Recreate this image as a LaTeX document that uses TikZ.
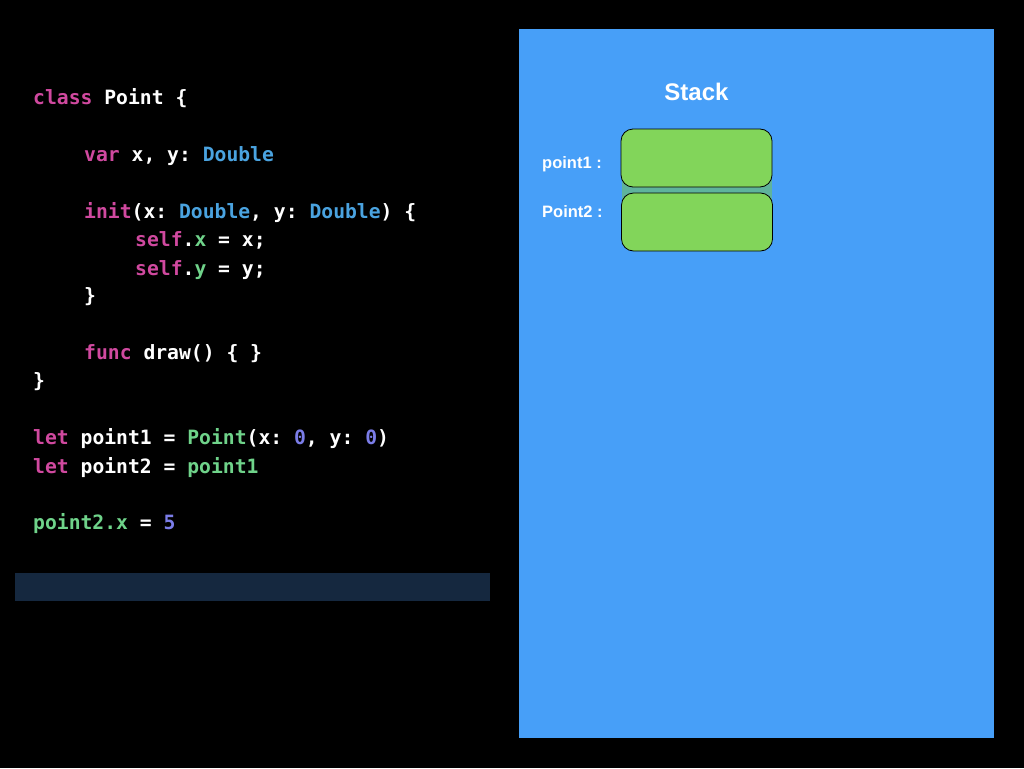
\documentclass[tikz,border=0pt]{standalone}
\usepackage{fontspec}
\setmainfont{Liberation Sans}
\setmonofont{DejaVu Sans Mono}
\definecolor{panelblue}{HTML}{479FF8}
\definecolor{barblue}{HTML}{15283F}
\definecolor{kw}{HTML}{D0499F}
\definecolor{ty}{HTML}{4AA3E0}
\definecolor{gr}{HTML}{6FD38A}
\definecolor{nu}{HTML}{7B7DE8}
\definecolor{boxgreen}{HTML}{82D55A}
\definecolor{band}{HTML}{5FB39C}
\tikzset{
  code/.style={anchor=base west, inner sep=0pt, text=white, font=\ttfamily\bfseries\fontsize{19.7}{24}\selectfont},
  lbl/.style={anchor=base west, inner sep=0pt, text=white, font=\bfseries\fontsize{16.5}{19}\selectfont},
  slot/.style={draw=black, line width=0.8pt, fill=boxgreen, rounded corners=12pt, minimum width=151pt, minimum height=58pt, inner sep=0pt}
}
\newcommand{\K}[1]{\textcolor{kw}{#1}}
\newcommand{\T}[1]{\textcolor{ty}{#1}}
\newcommand{\G}[1]{\textcolor{gr}{#1}}
\newcommand{\N}[1]{\textcolor{nu}{#1}}
\begin{document}
\begin{tikzpicture}[x=1pt,y=-1pt]
\fill[black] (0,0) rectangle (1024,768);
\useasboundingbox (0,0) rectangle (1024,768);
\fill[panelblue] (519,29) rectangle (994,738);
\fill[barblue] (15,573) rectangle (490,601);
% code
\node[code] (l1) at (33,104) {\K{class} Point \{};
\node[code] (l2) at (84,161) {\K{var} x, y: \T{Double}};
\node[code] (l3) at (84,218) {\K{init}(x: \T{Double}, y: \T{Double}) \{};
\node[code] (l4) at (135,246) {\K{self}.\G{x} = x;};
\node[code] (l5) at (135,275) {\K{self}.\G{y} = y;};
\node[code] (l6) at (84,302) {\}};
\node[code] (l7) at (84,359) {\K{func} draw() \{ \}};
\node[code] (l8) at (33,387) {\}};
\node[code] (l9) at (33,444) {\K{let} point1 = \G{Point}(x: \N{0}, y: \N{0})};
\node[code] (l10) at (33,473) {\K{let} point2 = \G{point1}};
\node[code] (l11) at (33,529) {\G{point2.x} = \N{5}};
% stack
\node[anchor=base, inner sep=0pt, text=white, font=\bfseries\fontsize{24}{28}\selectfont] (title) at (696.5,100) {Stack};
\fill[band] (622,180) rectangle (772,200);
\node[slot] (b1) at (696.5,158) {};
\node[slot] (b2) at (697,222) {};
\node[lbl] (p1) at (542,168.5) {point1 :};
\node[lbl] (p2) at (542,217.5) {Point2 :};
\end{tikzpicture}
\end{document}
